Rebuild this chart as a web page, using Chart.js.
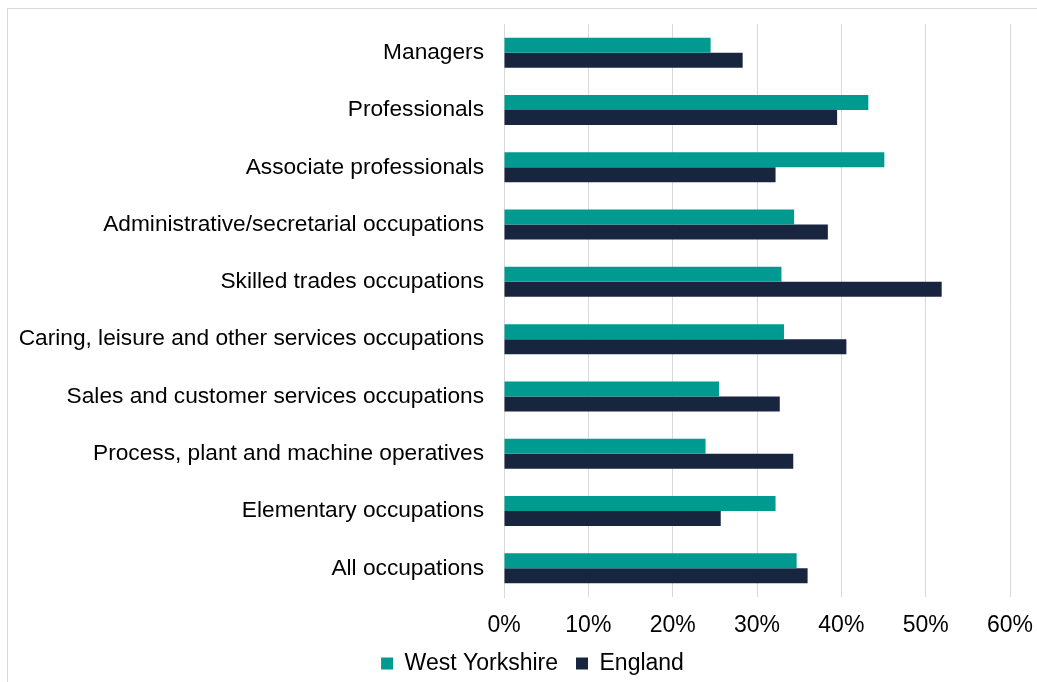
<!DOCTYPE html>
<html>
<head>
<meta charset="utf-8">
<script src="https://cdn.jsdelivr.net/npm/chart.js@4.4.1/dist/chart.umd.min.js"></script>
<style>
  html, body { margin: 0; padding: 0; background: #fff; overflow: hidden; }
  #frame { position: absolute; left: 7px; top: 8px; width: 1040px; height: 690px; border: 1px solid #d9d9d9; box-sizing: border-box; }
  #wrap { position: absolute; left: 0; top: 0; width: 1037px; height: 682px; }
</style>
</head>
<body>
<div id="frame"></div>
<div id="wrap"><canvas id="occChart"></canvas></div>
<script>
const occupations = [
  'Managers',
  'Professionals',
  'Associate professionals',
  'Administrative/secretarial occupations',
  'Skilled trades occupations',
  'Caring, leisure and other services occupations',
  'Sales and customer services occupations',
  'Process, plant and machine operatives',
  'Elementary occupations',
  'All occupations'
];
const westYorkshire = [24.5, 43.2, 45.1, 34.4, 32.9, 33.2, 25.5, 23.9, 32.2, 34.7];
const england = [28.3, 39.5, 32.2, 38.4, 51.9, 40.6, 32.7, 34.3, 25.7, 36.0];
const xTicks = [0, 10, 20, 30, 40, 50, 60];

const FONT = "'Liberation Sans', Arial, sans-serif";
const GRID = '#d9d9d9';

// legend padding is wide for the gap between items, so cap its height
// and nudge it into place under the plot
const legendPlace = {
  id: 'legendPlace',
  afterInit(chart) {
    const lg = chart.legend;
    if (!lg) return;
    const fit = lg.fit.bind(lg);
    lg.fit = function () { fit(); this.height = 42; };
  },
  afterLayout(chart) {
    const lg = chart.legend;
    if (lg) {
      lg.left += 18; lg.right += 18;
      lg.top -= 6; lg.bottom -= 6;
    }
  }
};

const ctx = document.getElementById('occChart').getContext('2d');
new Chart(ctx, {
  type: 'bar',
  data: {
    labels: occupations,
    datasets: [
      { label: 'West Yorkshire', data: westYorkshire, backgroundColor: '#009a90' },
      { label: 'England', data: england, backgroundColor: '#18253f' }
    ]
  },
  options: {
    indexAxis: 'y',
    responsive: true,
    maintainAspectRatio: false,
    animation: false,
    categoryPercentage: 0.524,
    barPercentage: 1,
    layout: { padding: { left: 19, right: 27, top: 24, bottom: 0 } },
    scales: {
      x: {
        min: 0,
        max: 60,
        afterBuildTicks(scale) { scale.ticks = xTicks.map(v => ({ value: v })); },
        // invisible tick marks give the label gap without extra layout padding
        grid: { color: GRID, lineWidth: 1, drawTicks: true, tickLength: 15, tickColor: 'rgba(0,0,0,0)' },
        border: { display: false },
        ticks: {
          padding: 0,
          color: '#000',
          font: { family: FONT, size: 23 },
          callback: v => v + '%'
        },
        afterFit(scale) { scale.height = 43; }
      },
      y: {
        grid: { display: false, drawTicks: true, tickLength: 20, tickColor: 'rgba(0,0,0,0)' },
        border: { display: true, color: GRID },
        ticks: {
          padding: 0,
          color: '#000',
          font: { family: FONT, size: 22.7 }
        },
        afterFit(scale) { scale.width = 485; }
      }
    },
    plugins: {
      legend: {
        position: 'bottom',
        labels: {
          boxWidth: 12,
          boxHeight: 12,
          padding: 18,
          color: '#000',
          font: { family: FONT, size: 23 }
        }
      },
      tooltip: { enabled: false }
    }
  },
  plugins: [legendPlace]
});
</script>
</body>
</html>
